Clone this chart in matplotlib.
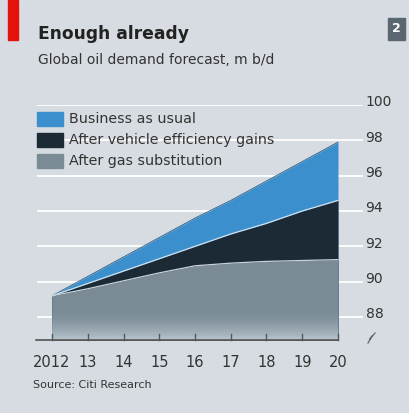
import numpy as np
import matplotlib.pyplot as plt
from matplotlib.patches import Rectangle
from matplotlib.lines import Line2D

years = [2012, 2013, 2014, 2015, 2016, 2017, 2018, 2019, 2020]
tick_labels = ["2012", "13", "14", "15", "16", "17", "18", "19", "20"]
business_as_usual = [89.2, 90.3, 91.4, 92.5, 93.6, 94.6, 95.7, 96.8, 97.9]
after_vehicle = [89.2, 89.9, 90.6, 91.3, 92.0, 92.7, 93.3, 94.0, 94.6]
after_gas = [89.2, 89.6, 90.05, 90.5, 90.9, 91.05, 91.15, 91.2, 91.25]
y_ticks = [88, 90, 92, 94, 96, 98, 100]
labels = ["Business as usual", "After vehicle efficiency gains", "After gas substitution"]

bg = "#d6dce1"
c_blue = "#3a8fcc"
c_black = "#1c2a36"
c_gray = "#7a8b96"

W, H = 410, 413
fig = plt.figure(figsize=(W / 100, H / 100), dpi=100)
fig.patch.set_facecolor(bg)

ax = fig.add_axes([37 / W, 1 - 340 / H, (363 - 37) / W, (340 - 105) / H])
ax.set_facecolor(bg)
ymin, ymax = 86.7, 100
xlo, xhi = 2011.58, 2020.7

for t in y_ticks:
    ax.axhline(t, color="white", lw=1.3, zorder=1)

ax.fill_between(years, ymin, business_as_usual, color=c_blue, lw=0, zorder=2)
ax.fill_between(years, ymin, after_vehicle, color=c_black, lw=0, zorder=3)
ax.fill_between(years, ymin, after_gas, color=c_gray, lw=0, zorder=4)
ax.plot(years, business_as_usual, color="#2a5a80", lw=0.6, zorder=5)
ax.plot(years, after_vehicle, color="#cfe0ee", lw=0.9, zorder=5)
ax.plot(years, after_gas, color="#c8d2da", lw=0.9, zorder=5)

# fade at bottom of the areas
n = 200
grad = np.linspace(0, 1, n)
rgba = np.zeros((n, 1, 4))
rgba[:, 0, :3] = np.array([0xc6, 0xd1, 0xda]) / 255
rgba[:, 0, 3] = (1 - grad) ** 2 * 0.85
ax.imshow(rgba, extent=[years[0], years[-1], ymin, 88.6], origin="lower",
          aspect="auto", zorder=6, interpolation="bilinear")
ax.set_xlim(xlo, xhi)
ax.set_ylim(ymin, ymax)

for s in ax.spines.values():
    s.set_visible(False)
ax.set_xticks([])
ax.set_yticks([])

# x axis line with ticks
ax.plot([2011.55, 2020], [ymin, ymin], color="#555", lw=1.2, zorder=7, clip_on=False)
for x in years:
    ax.plot([x, x], [ymin, ymin + 0.35], color="#555", lw=1, zorder=7, clip_on=False)
for x, lab in zip(years, tick_labels):
    ax.text(x, 85.4, lab, ha="center", va="center", fontsize=10.5, color="#333")

for t in y_ticks:
    ax.text(2020.77, t + 0.15, str(t), ha="left", va="center", fontsize=10, color="#333",
            clip_on=False)

# axis break mark
fig.add_artist(Line2D([368 / W, 372 / W, 370 / W, 375 / W],
                      [1 - 343 / H, 1 - 336 / H, 1 - 339 / H, 1 - 333 / H],
                      color="#666", lw=0.9))

# legend
colors = [c_blue, c_black, c_gray]
rows = [119, 140, 161]
for col, lab, yc in zip(colors, labels, rows):
    fig.add_artist(Rectangle((37 / W, 1 - (yc + 7) / H), 26 / W, 14 / H,
                             color=col, transform=fig.transFigure))
    fig.text(69 / W, 1 - yc / H, lab, ha="left", va="center", fontsize=10.3, color="#333")

# header
fig.add_artist(Rectangle((8 / W, 1 - 40 / H), 10 / W, 40 / H, color="#e3120b",
                         transform=fig.transFigure))
fig.add_artist(Rectangle((388 / W, 1 - 40 / H), 17 / W, 22 / H, color="#5a6670",
                         transform=fig.transFigure))
fig.text(396.5 / W, 1 - 29 / H, "2", ha="center", va="center", fontsize=9,
         color="white", fontweight="bold")
fig.text(38 / W, 1 - 34 / H, "Enough already", ha="left", va="center", fontsize=12.3,
         fontweight="bold", color="#222")
fig.text(38 / W, 1 - 60 / H, "Global oil demand forecast, m b/d", ha="left", va="center",
         fontsize=10, color="#333")
fig.text(33 / W, 1 - 385 / H, "Source: Citi Research", ha="left", va="center",
         fontsize=8, color="#333")

fig.savefig("out.png", dpi=100, facecolor=bg)
